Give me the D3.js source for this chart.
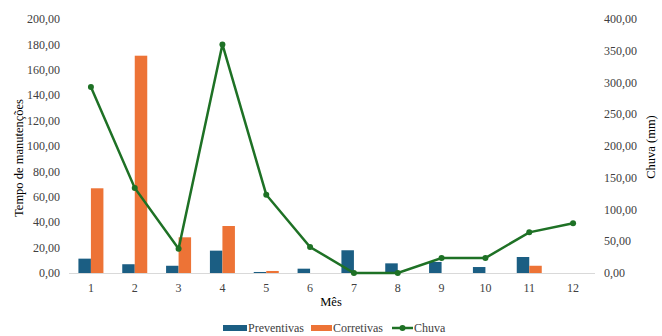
<!DOCTYPE html>
<html><head><meta charset="utf-8">
<script src="https://cdn.jsdelivr.net/npm/d3@7"></script>
</head><body style="margin:0">
<script>
const months = ["1","2","3","4","5","6","7","8","9","10","11","12"];
const preventivas = [11.3, 6.9, 5.7, 17.6, 0.8, 3.4, 17.9, 7.6, 8.7, 4.7, 12.6, 0];
const corretivas = [66.7, 171.1, 28.1, 37.0, 1.6, 0, 0, 0, 0, 0, 5.7, 0];
const chuva = [292.9, 133.9, 38.3, 360.0, 123.3, 41.0, 0, 0, 23.6, 23.6, 64.0, 78.3];
const leftTicks = [0,20,40,60,80,100,120,140,160,180,200];
const rightTicks = [0,50,100,150,200,250,300,350,400];

const W=662,H=336;
const m={l:69,r:595,t:19,b:273};
const fmt=d=>d3.format(".2f")(d).replace(".",",");
const svg=d3.select("body").append("svg").attr("width",W).attr("height",H).style("display","block");

const x=d3.scaleBand().domain(months).range([m.l,m.r]);
const xs=d3.scaleBand().domain(["p","c"]).range([0,25]);
const yL=d3.scaleLinear().domain([0,200]).range([m.b,m.t]);
const yR=d3.scaleLinear().domain([0,400]).range([m.b,m.t]);
const blue="#1b5e83", orange="#ed7336", green="#1e7125";

svg.append("g").selectAll("text").data(leftTicks).join("text")
  .attr("x",60).attr("y",d=>yL(d)).attr("dy","0.35em").attr("text-anchor","end")
  .attr("font-size",12).attr("fill","#404040").text(fmt);
svg.append("g").selectAll("text").data(rightTicks).join("text")
  .attr("x",604).attr("y",d=>yR(d)).attr("dy","0.35em").attr("text-anchor","start")
  .attr("font-size",12).attr("fill","#404040").text(fmt);

const g=svg.append("g");
months.forEach((mo,i)=>{
  const cx=x(mo)+x.bandwidth()/2-12.5;
  g.append("rect").attr("x",cx+xs("p")).attr("width",xs.bandwidth()).attr("y",yL(preventivas[i])).attr("height",m.b-yL(preventivas[i])).attr("fill",blue);
  g.append("rect").attr("x",cx+xs("c")).attr("width",xs.bandwidth()).attr("y",yL(corretivas[i])).attr("height",m.b-yL(corretivas[i])).attr("fill",orange);
});

svg.append("line").attr("x1",m.l).attr("x2",m.r).attr("y1",m.b+0.5).attr("y2",m.b+0.5).attr("stroke","#d9d9d9");
svg.append("g").selectAll("text").data(months).join("text")
  .attr("x",d=>x(d)+x.bandwidth()/2).attr("y",292).attr("text-anchor","middle")
  .attr("font-size",12).attr("fill","#404040").text(d=>d);

const line=d3.line().x((d,i)=>x(months[i])+x.bandwidth()/2).y(d=>yR(d));
svg.append("path").datum(chuva).attr("d",line).attr("fill","none").attr("stroke",green).attr("stroke-width",2.5);
svg.append("g").selectAll("circle").data(chuva).join("circle")
  .attr("cx",(d,i)=>x(months[i])+x.bandwidth()/2).attr("cy",d=>yR(d)).attr("r",3).attr("fill",green);

svg.append("text").attr("transform","translate(23,158) rotate(-90)").attr("text-anchor","middle")
  .attr("font-size",12.5).attr("fill","#000").text("Tempo de manutenções");
svg.append("text").attr("transform","translate(655,147) rotate(-90)").attr("text-anchor","middle")
  .attr("font-size",12.5).attr("fill","#000").text("Chuva (mm)");
svg.append("text").attr("x",331).attr("y",306).attr("text-anchor","middle")
  .attr("font-size",12.5).attr("fill","#000").text("Mês");

const lg=svg.append("g");
lg.append("rect").attr("x",223).attr("y",325).attr("width",24).attr("height",6).attr("fill",blue);
lg.append("text").attr("x",248).attr("y",332).attr("font-size",12).attr("fill","#404040").text("Preventivas");
lg.append("rect").attr("x",311).attr("y",325).attr("width",21).attr("height",6).attr("fill",orange);
lg.append("text").attr("x",333).attr("y",332).attr("font-size",12).attr("fill","#404040").text("Corretivas");
lg.append("line").attr("x1",392).attr("x2",413).attr("y1",328).attr("y2",328).attr("stroke",green).attr("stroke-width",2.5);
lg.append("circle").attr("cx",402.5).attr("cy",328).attr("r",3).attr("fill",green);
lg.append("text").attr("x",414).attr("y",332).attr("font-size",12).attr("fill","#404040").text("Chuva");

svg.selectAll("text").style("font-family",'"Liberation Serif"');
</script>
</body></html>
